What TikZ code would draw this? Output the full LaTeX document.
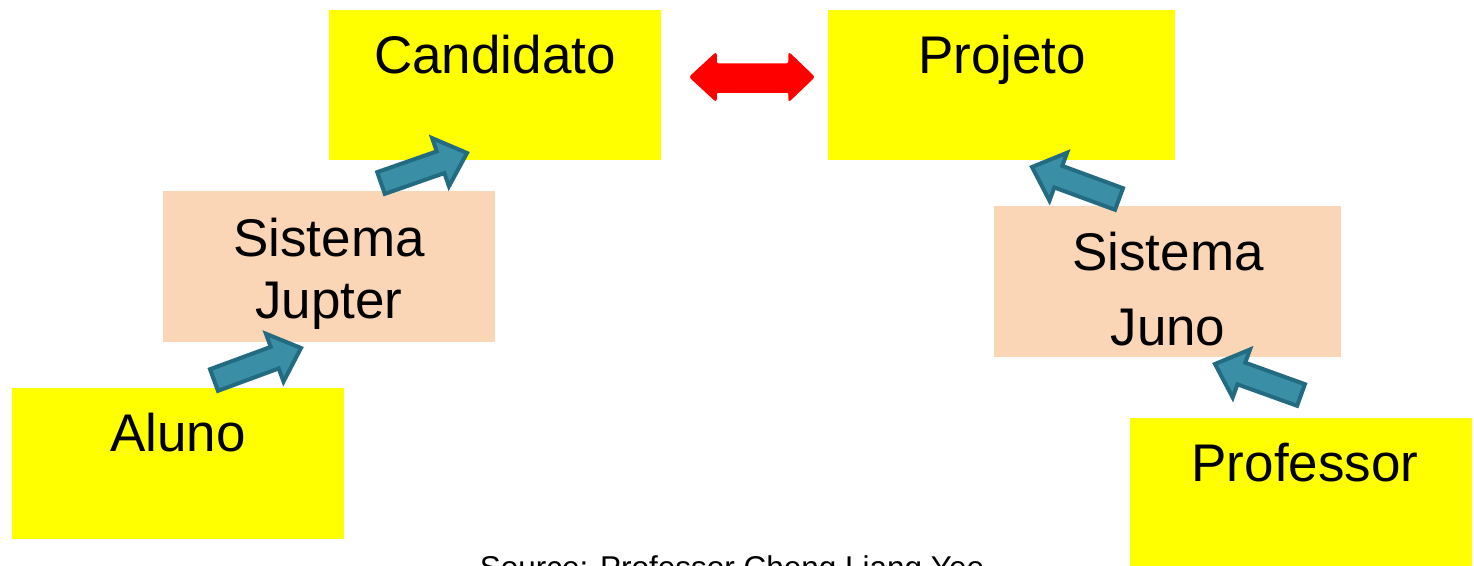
\documentclass[tikz,border=0pt]{standalone}
\usepackage{fontspec}
\setmainfont{Liberation Sans}
\usetikzlibrary{calc}
\definecolor{boxyellow}{HTML}{FFFF00}
\definecolor{boxpeach}{HTML}{FAD6B6}
\definecolor{arrfill}{HTML}{3A8FA6}
\definecolor{arrdraw}{HTML}{236B80}
\tikzset{
  box/.style={inner sep=0pt, outer sep=0pt},
  lbl/.style={font=\fontsize{53}{62}\selectfont, inner sep=0pt, anchor=base, align=center},
  blockarrow/.style={fill=arrfill, draw=arrdraw, line width=4pt, line join=miter},
}
% #1 tail centre, #2 tip
\newcommand{\blockarr}[2]{%
  \path[blockarrow]
    ($(#1)!11.5pt!90:(#2)$) -- ($($(#2)!28pt!(#1)$)!11.5pt!90:(#2)$)
    -- ($($(#2)!28pt!(#1)$)!25.5pt!90:(#2)$) -- (#2)
    -- ($($(#2)!28pt!(#1)$)!25.5pt!-90:(#2)$) -- ($($(#2)!28pt!(#1)$)!11.5pt!-90:(#2)$)
    -- ($(#1)!11.5pt!-90:(#2)$) -- cycle;}
\begin{document}
\begin{tikzpicture}[x=1pt,y=-1pt]
\useasboundingbox (0,0) rectangle (1474,565);
% boxes
\fill[boxyellow] (329,10) rectangle (661,160);
\fill[boxyellow] (828,10) rectangle (1175,160);
\fill[boxpeach] (163,191) rectangle (495,342);
\fill[boxpeach] (994,206) rectangle (1341,357);
\fill[boxyellow] (12,388) rectangle (344,539);
\fill[boxyellow] (1130,418) rectangle (1472,570);
% labels
\node[lbl] (tcand) at (495,73) {Candidato};
\node[lbl] (tproj) at (1002,73) {Projeto};
\node[lbl] (tjup) at (329,318) {Sistema\\Jupter};
\node[lbl] (tjuno) at (1168,345) {Sistema\\[13pt]Juno};
\node[lbl] (talu) at (178,451) {Aluno};
\node[lbl] (tprof) at (1305,481) {Professor};
\node[font=\fontsize{31.5}{36}\selectfont, inner sep=0pt, anchor=base] (src) at (732,578) {Source: Professor Cheng Liang Yee};
% block arrows
\coordinate (a1t) at (214,380); \coordinate (a1h) at (301,348);
\coordinate (a2t) at (381,183); \coordinate (a2h) at (467,153);
\coordinate (a3t) at (1119,199); \coordinate (a3h) at (1032,167);
\coordinate (a4t) at (1301,395); \coordinate (a4h) at (1215,364);
\blockarr{a1t}{a1h}
\blockarr{a2t}{a2h}
\blockarr{a3t}{a3h}
\blockarr{a4t}{a4h}
% red double arrow
\coordinate (dl) at (690,77); \coordinate (dr) at (814,77);
\fill[red, draw=red, line width=1.5pt, rounded corners=2pt]
  (dl) -- (716,53) -- (716,64) -- (789,64) -- (789,53) -- (dr)
  -- (789,101) -- (789,92) -- (716,92) -- (716,101) -- cycle;
\end{tikzpicture}
\end{document}
